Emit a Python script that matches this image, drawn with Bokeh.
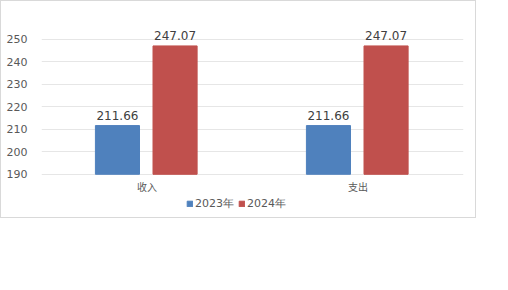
from bokeh.plotting import figure
from bokeh.models import ColumnDataSource, Legend, LegendItem, Range1d, FactorRange, FixedTicker
from bokeh.transform import dodge
from bokeh.core.properties import value
from bokeh.embed import file_html
from bokeh.resources import INLINE

categories = ["收入", "支出"]
series_names = ["2023年", "2024年"]
values_2023 = [211.66, 211.66]
values_2024 = [247.07, 247.07]
y_ticks = [190, 200, 210, 220, 230, 240, 250]
colors = ["#4f81bd", "#c0504d"]
base = 190

src = ColumnDataSource(dict(
    cat=categories,
    base=[base] * len(categories),
    v23=values_2023,
    v24=values_2024,
    l23=[f"{v:.2f}" for v in values_2023],
    l24=[f"{v:.2f}" for v in values_2024],
))

p = figure(width=476, height=218, output_backend="svg", toolbar_location=None,
           x_range=FactorRange(*categories, range_padding=0), y_range=Range1d(169.9, 260.6),
           min_border_left=40, min_border_right=14, min_border_top=14, min_border_bottom=0)
p.x_range.factor_padding = 0
p.styles = {"border": "1px solid #d9d9d9", "box-sizing": "border-box"}

r1 = p.vbar(x=dodge("cat", -0.14, range=p.x_range), top="v23", bottom=base, width=0.209,
            source=src, color=colors[0])
r2 = p.vbar(x=dodge("cat", 0.133, range=p.x_range), top="v24", bottom=base, width=0.209,
            source=src, color=colors[1])

for xo, col, lab in [(-0.14, "v23", "l23"), (0.133, "v24", "l24")]:
    p.text(x=dodge("cat", xo, range=p.x_range), y=col, text=lab, source=src,
           text_align="center", text_baseline="bottom", y_offset=-6,
           text_font=value("DejaVu Sans"), text_font_size="12px", text_color="#404040")

# category labels under the baseline
p.text(x="cat", y="base", text="cat", source=src, text_align="center", text_baseline="top",
       y_offset=5, text_font=value("Noto Sans CJK SC"), text_font_size="10px",
       text_color="#595959")

p.outline_line_color = None
p.background_fill_color = "white"
p.border_fill_color = "white"
p.xaxis.visible = False
p.xgrid.grid_line_color = None
p.ygrid.grid_line_color = "#e6e6e6"
p.ygrid.ticker = FixedTicker(ticks=y_ticks)
p.yaxis.ticker = FixedTicker(ticks=y_ticks)
p.yaxis.axis_line_color = None
p.yaxis.major_tick_line_color = None
p.yaxis.minor_tick_line_color = None
p.yaxis.major_label_text_font = "DejaVu Sans"
p.yaxis.major_label_text_font_size = "11px"
p.yaxis.major_label_text_color = "#595959"
p.yaxis.major_label_standoff = 8

legend = Legend(items=[LegendItem(label=series_names[0], renderers=[r1]),
                       LegendItem(label=series_names[1], renderers=[r2])],
                orientation="horizontal", location=(145, 8),
                label_text_font="DejaVu Sans", label_text_font_size="11px",
                label_text_color="#595959", glyph_width=7, glyph_height=7,
                spacing=4, label_standoff=2, padding=0, margin=0,
                label_height=12, border_line_color=None, background_fill_alpha=0)
p.add_layout(legend, "center")

open("out.html", "w").write(file_html(p, INLINE))
